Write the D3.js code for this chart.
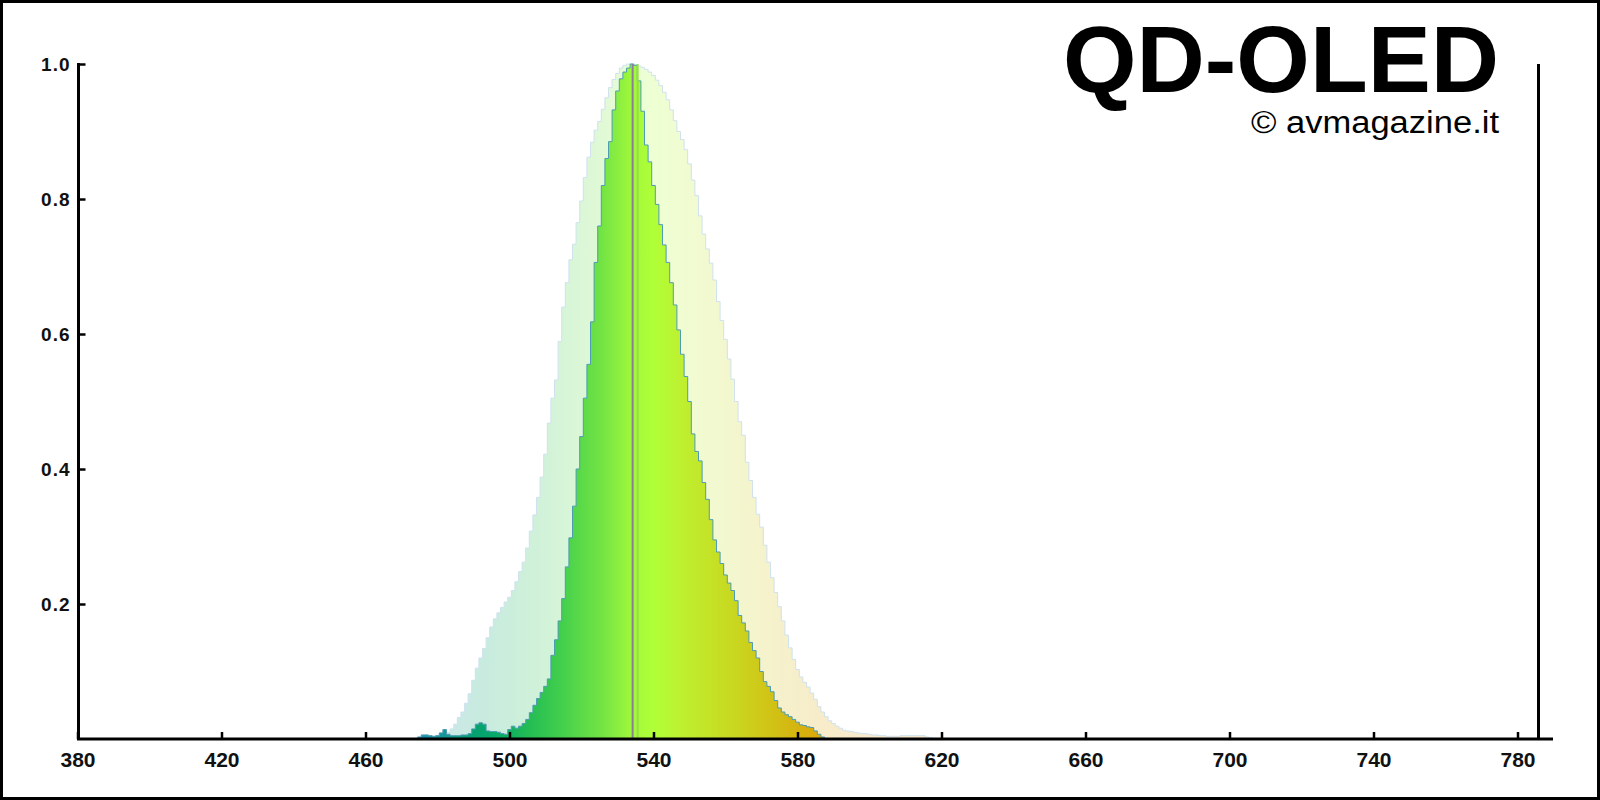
<!DOCTYPE html>
<html>
<head>
<meta charset="utf-8">
<script src="https://cdn.jsdelivr.net/npm/d3@7"></script>
<style>
  html, body { margin: 0; padding: 0; background: #fff; }
  svg { display: block; }
  text { font-family: "Liberation Sans", Arial, sans-serif; }
</style>
</head>
<body>
<svg id="chart" width="1600" height="800"></svg>
<script>
// ---------- data ----------
const xTicks = [380, 420, 460, 500, 540, 580, 620, 660, 700, 740, 780];
const yTicks = [0.2, 0.4, 0.6, 0.8, 1.0];

// narrow spectrum (QD-OLED green primary), 1 nm samples starting at 474 nm
const narrowStart = 474;
const narrowValues = [
  0.000,0.003,0.006,0.006,0.005,0.004,0.005,0.009,0.014,0.007,
  0.005,0.005,0.005,0.006,0.006,0.008,0.015,0.022,0.024,0.022,
  0.012,0.011,0.011,0.010,0.008,0.007,0.014,0.019,0.016,0.019,
  0.023,0.029,0.039,0.050,0.060,0.069,0.078,0.089,0.124,0.147,
  0.175,0.208,0.255,0.298,0.345,0.400,0.448,0.505,0.555,0.618,
  0.706,0.760,0.820,0.860,0.885,0.932,0.960,0.978,0.988,0.994,
  1.000,0.998,0.975,0.930,0.880,0.855,0.820,0.792,0.762,0.732,
  0.706,0.676,0.643,0.606,0.570,0.537,0.500,0.452,0.426,0.412,
  0.380,0.355,0.325,0.295,0.277,0.260,0.243,0.231,0.220,0.205,
  0.183,0.172,0.160,0.143,0.131,0.120,0.100,0.085,0.078,0.070,
  0.057,0.046,0.040,0.036,0.033,0.029,0.025,0.021,0.020,0.018,
  0.017,0.012,0.007,0.003,0.000
];

// wide (pale) reference spectrum, 1 nm samples starting at 474 nm
const wideStart = 474;
const wideValues = [
  0.000,0.003,0.006,0.006,0.005,0.004,0.005,0.009,0.014,0.010,
  0.015,0.022,0.032,0.040,0.053,0.067,0.087,0.105,0.120,0.134,
  0.150,0.166,0.178,0.187,0.195,0.203,0.210,0.220,0.233,0.248,
  0.262,0.283,0.308,0.332,0.358,0.388,0.422,0.468,0.505,0.532,
  0.589,0.640,0.676,0.710,0.733,0.765,0.797,0.832,0.862,0.884,
  0.902,0.915,0.933,0.950,0.965,0.977,0.986,0.994,0.998,1.000,
  1.000,0.999,0.997,0.995,0.992,0.988,0.983,0.976,0.968,0.958,
  0.947,0.932,0.916,0.900,0.888,0.873,0.852,0.828,0.805,0.775,
  0.748,0.726,0.705,0.680,0.648,0.620,0.592,0.563,0.533,0.500,
  0.470,0.450,0.410,0.383,0.358,0.333,0.314,0.287,0.262,0.239,
  0.217,0.196,0.175,0.154,0.135,0.118,0.103,0.092,0.084,0.077,
  0.068,0.059,0.048,0.040,0.033,0.027,0.023,0.019,0.016,0.013,
  0.012,0.011,0.010,0.009,0.008,0.008,0.007,0.006,0.006,0.005,
  0.005,0.004,0.004,0.004,0.004,0.005,0.005,0.005,0.005,0.005,
  0.005,0.005,0.003,0.002,0.000
];

// spectral colour stops (wavelength -> colour) read from the fill
const colorStopNm = [474, 485, 490, 495, 500, 505, 510, 515, 520, 525, 530, 534, 540, 548, 555, 562, 570, 578, 586, 600, 615];
const colorStopHex = ["#2090b8","#109a8c","#05a070","#06a86a","#10b060","#22bb55","#33c650","#45d04c","#5cda48","#70e244","#8aee40","#a0f83a","#b0ff38","#bef030","#c4e428","#c8d820","#d0c818","#d4b812","#dca80a","#e0a018","#e49828"];

// vertical markers (peak / dominant wavelength)
const markerNm = [534.2, 535.6];
const markerColor = ["#8c7d99", "#98dc48"];

const titleText = "QD-OLED";
const creditText = "\u00A9 avmagazine.it";

// ---------- chart ----------
const svg = d3.select("#chart");
const x = d3.scaleLinear().domain([380, 780]).range([77.5, 1517.5]);
const y = d3.scaleLinear().domain([0, 1]).range([739, 64]);

svg.append("rect").attr("x", 0).attr("y", 0).attr("width", 1600).attr("height", 800).attr("fill", "#fff");

// gradient
const defs = svg.append("defs");
const gMin = colorStopNm[0], gMax = colorStopNm[colorStopNm.length - 1];
const grad = defs.append("linearGradient").attr("id", "spec")
  .attr("gradientUnits", "userSpaceOnUse")
  .attr("x1", x(gMin)).attr("x2", x(gMax)).attr("y1", 0).attr("y2", 0);
colorStopNm.forEach((nm, i) => {
  grad.append("stop").attr("offset", (nm - gMin) / (gMax - gMin)).attr("stop-color", colorStopHex[i]);
});

const wideData = wideValues.map((v, i) => ({ nm: wideStart + i, v }));
const narrowData = narrowValues.map((v, i) => ({ nm: narrowStart + i, v }));

const area = d3.area().curve(d3.curveStep).x(d => x(d.nm)).y0(y(0)).y1(d => y(d.v));
const line = d3.line().curve(d3.curveStep).x(d => x(d.nm)).y(d => y(d.v));

// wide pale spectrum
svg.append("path").datum(wideData).attr("d", area)
  .attr("fill", "url(#spec)").attr("fill-opacity", 0.22);
svg.append("path").datum(wideData).attr("d", line)
  .attr("fill", "none").attr("stroke", "#cfe2ee").attr("stroke-width", 1);

// narrow spectrum
svg.append("path").datum(narrowData).attr("d", area).attr("fill", "url(#spec)");
svg.append("path").datum(narrowData).attr("d", line)
  .attr("fill", "none").attr("stroke", "#4e9db2").attr("stroke-width", 1);

// markers
markerNm.forEach((nm, i) => {
  svg.append("line").attr("x1", x(nm)).attr("x2", x(nm)).attr("y1", y(0)).attr("y2", y(1))
    .attr("stroke", markerColor[i]).attr("stroke-width", 2);
});

// axes
const xAxis = d3.axisBottom(x).tickValues(xTicks).tickSize(0).tickPadding(0).tickFormat(d3.format("d"));
const gx = svg.append("g").attr("transform", `translate(0,${y(0)})`).call(xAxis);
gx.select(".domain").remove();
gx.selectAll(".tick text").attr("font-size", 21).attr("font-weight", "bold").attr("fill", "#111")
  .attr("dy", 0).attr("y", 28).attr("font-family", "Liberation Sans, Arial, sans-serif");
gx.selectAll(".tick").append("line").attr("y1", 0).attr("y2", -7).attr("stroke", "#000").attr("stroke-width", 2.5);

svg.append("line").attr("x1", 77).attr("x2", 1553).attr("y1", y(0)).attr("y2", y(0))
  .attr("stroke", "#000").attr("stroke-width", 3);

const yAxis = d3.axisLeft(y).tickValues(yTicks).tickSize(0).tickPadding(0).tickFormat(d3.format(".1f"));
const gy = svg.append("g").attr("transform", `translate(${x(380)},0)`).call(yAxis);
gy.select(".domain").remove();
gy.selectAll(".tick text").attr("font-size", 19).attr("font-weight", "bold").attr("fill", "#111")
  .attr("x", -7).attr("letter-spacing", "1px").attr("font-family", "Liberation Sans, Arial, sans-serif");
gy.selectAll(".tick").append("line").attr("x1", 0).attr("x2", 8).attr("stroke", "#000").attr("stroke-width", 2.5);

svg.append("line").attr("x1", x(380) + 1).attr("x2", x(380) + 1).attr("y1", y(1) - 1).attr("y2", y(0))
  .attr("stroke", "#000").attr("stroke-width", 3);
// right frame line
svg.append("line").attr("x1", 1538.5).attr("x2", 1538.5).attr("y1", y(1)).attr("y2", y(0))
  .attr("stroke", "#000").attr("stroke-width", 3);

// title
svg.append("text").attr("x", 1499).attr("y", 92).attr("text-anchor", "end")
  .attr("font-size", 95).attr("font-weight", "bold").attr("fill", "#000")
  .attr("textLength", 436).attr("lengthAdjust", "spacingAndGlyphs").text(titleText);
svg.append("text").attr("x", 1499).attr("y", 133).attr("text-anchor", "end")
  .attr("font-size", 31).attr("fill", "#000")
  .attr("textLength", 248).attr("lengthAdjust", "spacingAndGlyphs").text(creditText);

// outer border
svg.append("rect").attr("x", 1.5).attr("y", 1.5).attr("width", 1597).attr("height", 797)
  .attr("fill", "none").attr("stroke", "#000").attr("stroke-width", 3);
</script>
</body>
</html>
